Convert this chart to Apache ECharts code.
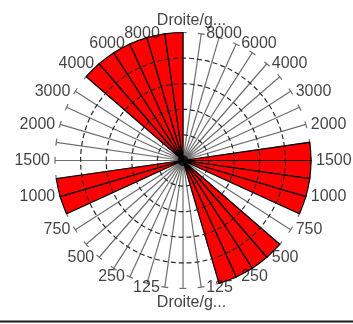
<!DOCTYPE html>
<html>
<head>
<meta charset="utf-8">
<script src="https://cdn.jsdelivr.net/npm/echarts@6/dist/echarts.min.js"></script>
<style>
  html, body { margin: 0; padding: 0; background: #ffffff; }
  #chart { width: 353px; height: 324px; }
</style>
</head>
<body>
<div id="chart"></div>
<script>
// 44 angular bins, running clockwise from the top of the dial
const binNames = [
  'b0', 'b1', 'b2', 'b3', 'b4', 'b5', 'b6', 'b7', 'b8', 'b9', 'b10',
  'b11', 'b12', 'b13', 'b14', 'b15', 'b16', 'b17', 'b18', 'b19', 'b20', 'b21',
  'b22', 'b23', 'b24', 'b25', 'b26', 'b27', 'b28', 'b29', 'b30', 'b31', 'b32',
  'b33', 'b34', 'b35', 'b36', 'b37', 'b38', 'b39', 'b40', 'b41', 'b42', 'b43'
];

// Filled bins (full scale = 5), empty bins are null
const binValues = [
  null, null, null, null, null, null, null, null, null, null, 5,
  5, 5, 5, null, null, 5, 5, 5, 5, null, null,
  null, null, null, null, null, null, null, null, 5, 5, null,
  null, null, null, null, null, 5, 5, 5, 5, 5, 5
];

// Labels sitting on the spokes (one per spoke, blanks in between)
const tickLabels = [
  'Droite/g...', '8000', '', '6000', '', '4000', '', '3000', '', '2000', '', '1500',
  '', '1000', '', '750', '', '500', '', '250', '', '125',
  'Droite/g...', '125', '', '250', '', '500', '', '750', '', '1000', '', '1500',
  '', '2000', '', '3000', '', '4000', '', '6000', '', '8000'
];

const RADIUS_MAX = 5;
const LABEL_FONT = { fontFamily: '"Liberation Sans", Arial, sans-serif', fontSize: 16, color: '#111111' };

const chart = echarts.init(document.getElementById('chart'), null, { renderer: 'canvas' });

const outerR = 128;
const spokeStep = 2 * Math.PI * outerR / binNames.length;
const capLen = 7;

const labelData = tickLabels.map(function (t, i) {
  const half = tickLabels.length / 2;
  let lab;
  if (i === 0) lab = { position: 'top', distance: 4, offset: [8.5, 0] };
  else if (i === half) lab = { position: 'bottom', distance: 6, offset: [8.5, 0] };
  else if (i < half) lab = { position: 'right', distance: 5 };
  else lab = { position: 'left', distance: 5 };
  return { value: [1, i], label: lab };
});

const option = {
  animation: false,
  backgroundColor: '#ffffff',
  polar: [
    { center: [183, 160.5], radius: outerR },
    { center: [183, 160.5], radius: outerR }
  ],
  angleAxis: [
    {
      polarIndex: 0,
      type: 'category',
      data: binNames,
      startAngle: 90,
      clockwise: true,
      boundaryGap: true,
      z: 0,
      axisLine: {
        show: true,
        lineStyle: { color: '#6e6e6e', width: 1.2, type: [capLen, spokeStep - capLen], dashOffset: capLen / 2 }
      },
      axisTick: { show: false, interval: 0 },
      axisLabel: { show: false, interval: 0 },
      splitLine: { show: true, interval: 0, lineStyle: { color: '#6e6e6e', width: 1.2 } }
    },
    {
      polarIndex: 1,
      type: 'value',
      min: 0,
      max: tickLabels.length,
      interval: 1,
      startAngle: 90,
      clockwise: true,
      axisLine: { show: false },
      axisTick: { show: false },
      axisLabel: { show: false },
      splitLine: { show: false }
    }
  ],
  radiusAxis: [
    {
      polarIndex: 0,
      type: 'value',
      min: 0,
      max: RADIUS_MAX,
      interval: 1,
      z: 3,
      axisLine: { show: false },
      axisTick: { show: false },
      axisLabel: { show: false },
      splitLine: {
        show: true,
        lineStyle: {
          color: ['#2a2a2a', '#2a2a2a', '#2a2a2a', '#2a2a2a', '#2a2a2a', 'rgba(0,0,0,0)'],
          width: 1.2,
          type: [5, 3]
        }
      }
    },
    {
      polarIndex: 1,
      type: 'value',
      min: 0,
      max: 1,
      axisLine: { show: false },
      axisTick: { show: false },
      axisLabel: { show: false },
      splitLine: { show: false }
    }
  ],
  series: [
    {
      type: 'bar',
      coordinateSystem: 'polar',
      polarIndex: 0,
      data: binValues,
      barCategoryGap: '0%',
      z: 2,
      itemStyle: { color: '#ff0000', borderColor: '#000000', borderWidth: 1.2 }
    },
    {
      // hub where the spokes meet
      type: 'scatter',
      coordinateSystem: 'polar',
      polarIndex: 1,
      symbol: 'circle',
      symbolSize: 11,
      silent: true,
      z: 4,
      itemStyle: { color: '#000000' },
      data: [[0, 0]]
    },
    {
      type: 'scatter',
      coordinateSystem: 'polar',
      polarIndex: 1,
      symbolSize: 0,
      silent: true,
      z: 4,
      data: labelData,
      label: Object.assign({
        show: true,
        formatter: function (p) { return tickLabels[p.dataIndex]; }
      }, LABEL_FONT)
    }
  ],
  graphic: [
    {
      type: 'line',
      shape: { x1: 0, y1: 321.5, x2: 353, y2: 321.5 },
      style: { stroke: '#1a1a1a', lineWidth: 2 }
    }
  ]
};

chart.setOption(option);
</script>
</body>
</html>
